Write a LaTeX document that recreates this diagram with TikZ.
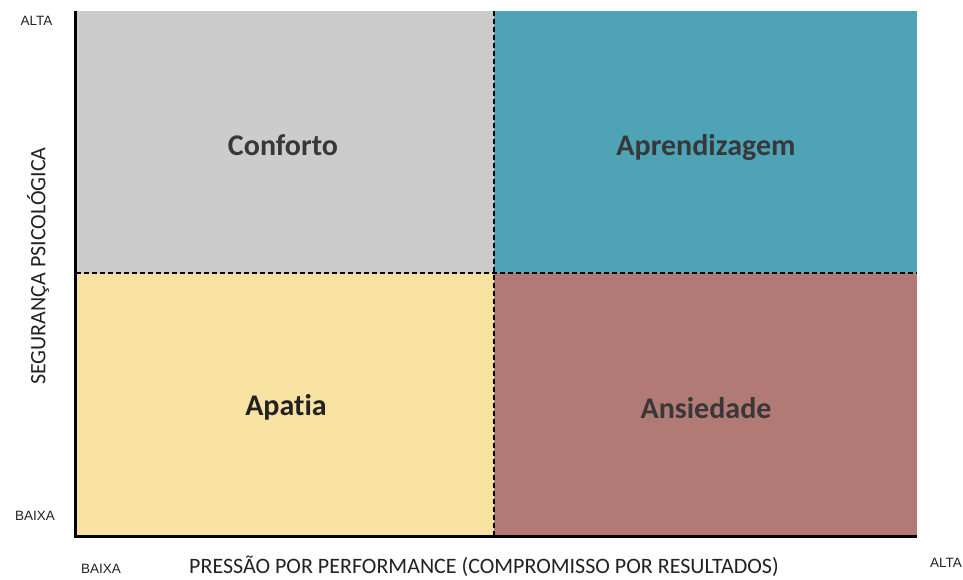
\documentclass[tikz,border=0pt]{standalone}
\usepackage{fontspec}
\setmainfont{Carlito}[Ligatures=NoCommon]
\newfontfamily\arialf{Liberation Sans}
\definecolor{qgray}{HTML}{CCCCCC}
\definecolor{qteal}{HTML}{4FA3B7}
\definecolor{qyellow}{HTML}{F7E2A1}
\definecolor{qrose}{HTML}{B27A74}
\definecolor{qtext}{HTML}{383838}
\definecolor{atext}{HTML}{222222}
\begin{document}
\begin{tikzpicture}[x=1pt,y=-1pt,
  qlabel/.style={font=\fontsize{30}{34}\selectfont\bfseries,text=qtext,anchor=base,inner sep=0pt},
  axsmall/.style={font=\arialf\fontsize{13.5}{16}\selectfont,text=atext,anchor=base,inner sep=0pt},
  axbig/.style={font=\fontsize{22}{26}\selectfont,text=atext,inner sep=0pt},
  divider/.style={black,line width=1.6pt,dash pattern=on 5pt off 3pt}]
\useasboundingbox (0,0) rectangle (963,579);
\fill[white] (0,0) rectangle (963,579);
\fill[qgray]   (76,11) rectangle (494,273);
\fill[qteal]   (494,11) rectangle (917,273);
\fill[qyellow] (76,273) rectangle (494,536);
\fill[qrose]   (494,273) rectangle (917,536);
\coordinate (tl) at (75,11);
\coordinate (bl) at (75,536);
\coordinate (br) at (917,536);
\coordinate (mt) at (494,11);
\coordinate (mb) at (494,536);
\coordinate (ml) at (76,273);
\coordinate (mr) at (917,273);
\draw[divider] (mt) -- (mb);
\draw[divider] (ml) -- (mr);
\draw[black,line width=3pt] (tl) -- (bl) -- (br);
\node[qlabel] (conf) at (283,155) {Conforto};
\node[qlabel] (apr) at (706,155) {Aprendizagem};
\node[qlabel,text=atext] (apa) at (286,415) {Apatia};
\node[qlabel] (ans) at (706,418) {Ansiedade};
\node[axsmall] (altay) at (36.5,25) {ALTA};
\node[axsmall] (baixay) at (35,520) {BAIXA};
\node[axsmall] (baixax) at (101,573) {BAIXA};
\node[axsmall] (altax) at (946,567) {ALTA};
\node[axbig,anchor=base] (xlab) at (484,573) {PRESSÃO POR PERFORMANCE (COMPROMISSO POR RESULTADOS)};
\node[axbig,rotate=90] (ylab) at (38,266) {SEGURANÇA PSICOLÓGICA};
\end{tikzpicture}
\end{document}
